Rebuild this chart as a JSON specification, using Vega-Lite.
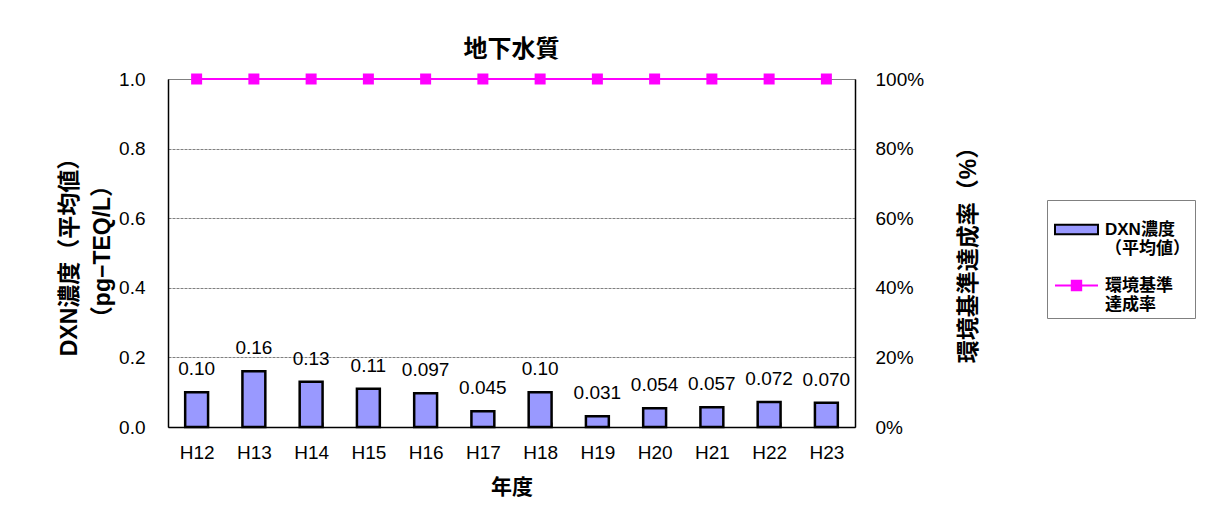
{
  "$schema": "https://vega.github.io/schema/vega-lite/v6.json",
  "width": 687,
  "height": 348,
  "autosize": {"type": "none"},
  "padding": {"left": 168, "top": 79, "right": 353, "bottom": 81},
  "background": "white",
  "title": {
    "text": "地下水質",
    "fontSize": 24,
    "fontWeight": "bold",
    "font": "Liberation Sans, Noto Sans CJK JP",
    "color": "black",
    "anchor": "middle",
    "frame": "group",
    "offset": 8
  },
  "data": {
    "values": [
      {"year": "H12", "dxn": 0.10, "label": "0.10", "rate": 100},
      {"year": "H13", "dxn": 0.16, "label": "0.16", "rate": 100},
      {"year": "H14", "dxn": 0.13, "label": "0.13", "rate": 100},
      {"year": "H15", "dxn": 0.11, "label": "0.11", "rate": 100},
      {"year": "H16", "dxn": 0.097, "label": "0.097", "rate": 100},
      {"year": "H17", "dxn": 0.045, "label": "0.045", "rate": 100},
      {"year": "H18", "dxn": 0.10, "label": "0.10", "rate": 100},
      {"year": "H19", "dxn": 0.031, "label": "0.031", "rate": 100},
      {"year": "H20", "dxn": 0.054, "label": "0.054", "rate": 100},
      {"year": "H21", "dxn": 0.057, "label": "0.057", "rate": 100},
      {"year": "H22", "dxn": 0.072, "label": "0.072", "rate": 100},
      {"year": "H23", "dxn": 0.070, "label": "0.070", "rate": 100}
    ]
  },
  "encoding": {
    "x": {
      "field": "year",
      "type": "ordinal",
      "sort": null,
      "scale": {"paddingInner": 0.6, "paddingOuter": 0.3},
      "axis": {
        "title": "年度",
        "titleFontSize": 21,
        "titleFontWeight": "bold",
        "titlePadding": 14,
        "labelAngle": 0,
        "labelFontSize": 19,
        "labelPadding": 21,
        "tickBand": "extent",
        "tickSize": -5,
        "tickColor": "#808080",
        "domainColor": "black",
        "domainWidth": 1.5
      }
    }
  },
  "layer": [
    {
      "layer": [
        {
          "mark": {"type": "bar", "strokeWidth": 2.5},
          "encoding": {
            "strokeWidth": {"value": 2.5},
            "y": {
              "field": "dxn",
              "type": "quantitative",
              "scale": {"domain": [0, 1]},
              "axis": {
                "orient": "left",
                "values": [0, 0.2, 0.4, 0.6, 0.8, 1.0],
                "format": ".1f",
                "labelFontSize": 19,
                "labelPadding": 23,
                "ticks": false,
                "domainColor": "black",
                "domainWidth": 1.5,
                "grid": true,
                "gridColor": "#808080",
                "gridDash": [3, 1],
                "gridWidth": 1,
                "title": ["DXN濃度（平均値）", "（pg−TEQ/L）"],
                "titleFontSize": 23,
                "titleFontWeight": "bold",
                "titleAngle": -90,
                "titleAlign": "center",
                "titleBaseline": "alphabetic",
                "titleLineHeight": 33,
                "titleX": -92,
                "titleY": 172
              }
            },
            "color": {
              "datum": "DXN濃度（平均値）",
              "type": "nominal",
              "scale": {
                "domain": ["DXN濃度（平均値）", "環境基準達成率"],
                "range": ["#9999FF", "#FF00FF"]
              },
              "legend": {
                "title": null,
                "orient": "none",
                "legendX": 879,
                "legendY": 121,
                "padding": 5,
                "strokeColor": "#808080",
                "fillColor": "white",
                "symbolSize": 2209,
                "symbolStrokeWidth": 2,
                "symbolOpacity": 1,
                "labelFontSize": 17,
                "labelFontWeight": "bold",
                "labelBaseline": "middle",
                "labelOffset": 4,
                "rowPadding": 4,
                "labelExpr": "datum.label == 'DXN濃度（平均値）' ? ['DXN濃度', '（平均値）'] : ['環境基準', '達成率']"
              }
            },
            "stroke": {
              "datum": "DXN濃度（平均値）",
              "type": "nominal",
              "scale": {
                "domain": ["DXN濃度（平均値）", "環境基準達成率"],
                "range": ["black", "#FF00FF"]
              }
            }
          }
        },
        {
          "mark": {"type": "text", "fontSize": 19, "baseline": "middle", "dy": -23, "color": "black"},
          "encoding": {
            "y": {"field": "dxn", "type": "quantitative"},
            "text": {"field": "label", "type": "nominal"}
          }
        }
      ]
    },
    {
      "layer": [
        {
          "mark": {"type": "line", "strokeWidth": 2},
          "encoding": {
            "y": {
              "field": "rate",
              "type": "quantitative",
              "scale": {"domain": [0, 100]},
              "axis": {
                "orient": "right",
                "values": [0, 20, 40, 60, 80, 100],
                "labelExpr": "datum.value + '%'",
                "labelFontSize": 19,
                "labelPadding": 20,
                "ticks": false,
                "grid": false,
                "domainColor": "black",
                "domainWidth": 1.5,
                "title": "環境基準達成率（%）",
                "titleFontSize": 23,
                "titleFontWeight": "bold",
                "titleAngle": -90,
                "titleAlign": "center",
                "titleBaseline": "alphabetic",
                "titleX": 120,
                "titleY": 170
              }
            },
            "stroke": {"datum": "環境基準達成率", "type": "nominal"}
          }
        },
        {
          "mark": {"type": "point", "shape": "square", "filled": true, "size": 121, "strokeWidth": 0, "opacity": 1},
          "encoding": {
            "y": {"field": "rate", "type": "quantitative"},
            "color": {"datum": "環境基準達成率", "type": "nominal"}
          }
        },
        {
          "mark": {"type": "point", "filled": true, "size": 0, "strokeWidth": 0, "opacity": 1},
          "encoding": {
            "y": {"field": "rate", "type": "quantitative"},
            "shape": {
              "datum": "環境基準達成率",
              "type": "nominal",
              "scale": {
                "domain": ["DXN濃度（平均値）", "環境基準達成率"],
                "range": ["M-0.915,-0.2H0.915V0.2H-0.915Z", "M-0.915,0H0.915M-0.2,-0.2H0.2V0.2H-0.2Z"]
              }
            }
          }
        }
      ]
    }
  ],
  "resolve": {"scale": {"y": "independent"}, "axis": {"y": "independent"}},
  "config": {
    "font": "Liberation Sans, Noto Sans CJK JP",
    "view": {"stroke": "#808080"},
    "axis": {"labelColor": "black", "titleColor": "black"},
    "legend": {"labelColor": "black"}
  }
}
